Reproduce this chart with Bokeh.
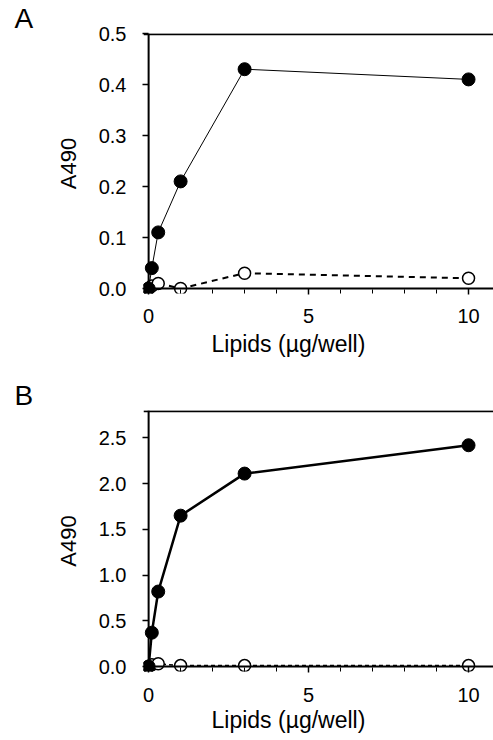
from bokeh.plotting import figure
from bokeh.layouts import column
from bokeh.models import (Range1d, SingleIntervalTicker, FixedTicker, PrintfTickFormatter,
                          Title, Span)
from bokeh.embed import file_html
from bokeh.resources import INLINE

# ---- data ----
lipids = [0, 0.1, 0.3, 1, 3, 10]
a_filled = [0.0, 0.04, 0.11, 0.21, 0.43, 0.41]
a_open = [0.0, 0.005, 0.01, 0.0, 0.03, 0.02]
b_filled = [0.0, 0.37, 0.82, 1.65, 2.11, 2.42]
b_open = [0.0, 0.02, 0.03, 0.01, 0.01, 0.01]
a_yticks = [0.0, 0.1, 0.2, 0.3, 0.4, 0.5]
b_yticks = [0.0, 0.5, 1.0, 1.5, 2.0, 2.5]
x_label = "Lipids (µg/well)"
y_label = "A490"

FONT = "Liberation Sans"


def make_panel(height, top, bottom, yr, yticks, filled, opened, letter,
               filled_w, open_w, open_dash, x_standoff, xlab_standoff):
    p = figure(width=493, height=height, x_range=Range1d(-0.16, 10.78), y_range=Range1d(*yr),
               output_backend="svg", toolbar_location=None,
               min_border_left=143, min_border_right=0, min_border_top=top,
               min_border_bottom=bottom)
    p.outline_line_color = None
    p.grid.visible = False
    p.background_fill_color = "white"

    # x axis
    xa = p.xaxis[0]
    xa.ticker = SingleIntervalTicker(interval=5, num_minor_ticks=5)
    xa.axis_line_color = None
    xa.major_tick_in = 5
    xa.major_tick_out = 1
    xa.minor_tick_in = 4
    xa.minor_tick_out = 0
    xa.major_tick_line_width = 1.5
    xa.minor_tick_line_width = 1
    xa.major_label_standoff = x_standoff
    xa.major_label_text_font = FONT
    xa.major_label_text_font_size = "20px"
    xa.major_label_text_color = "black"

    # y axis
    ya = p.yaxis[0]
    ya.ticker = FixedTicker(ticks=yticks)
    ya.formatter = PrintfTickFormatter(format="%.1f")
    ya.axis_line_color = None
    ya.major_tick_in = 5
    ya.major_tick_out = 1
    ya.minor_tick_out = 0
    ya.minor_tick_in = 0
    ya.major_tick_line_width = 1.5
    ya.major_label_standoff = 16
    ya.major_label_text_font = FONT
    ya.major_label_text_font_size = "20px"
    ya.major_label_text_color = "black"
    ya.axis_label = y_label
    ya.axis_label_text_font = FONT
    ya.axis_label_text_font_size = "22px"
    ya.axis_label_text_font_style = "normal"
    ya.axis_label_text_color = "black"
    ya.axis_label_standoff = 15

    # axis lines through the origin and top border
    p.add_layout(Span(location=0, dimension="width", line_color="black", line_width=2))
    p.add_layout(Span(location=0, dimension="height", line_color="black", line_width=2))
    p.add_layout(Span(location=yr[1] - (yr[1] - yr[0]) * 0.003, dimension="width",
                      line_color="black", line_width=2))

    # series
    p.line(lipids, opened, line_color="black", line_width=open_w, line_dash=open_dash)
    p.scatter(lipids, opened, size=12, fill_color="white", line_color="black", line_width=1.5)
    p.line(lipids, filled, line_color="black", line_width=filled_w)
    p.scatter(lipids, filled, size=13, fill_color="black", line_color="black")

    # x-axis title and panel letter
    p.add_layout(Title(text=x_label, align="left", offset=68, standoff=xlab_standoff,
                       text_font=FONT, text_font_size="23px", text_font_style="normal",
                       text_color="black"),
                 "below")
    p.add_layout(Title(text=letter, align="left", offset=-129, standoff=0,
                       text_font=FONT, text_font_size="28px", text_font_style="normal",
                       text_color="black"),
                 "above")
    return p


pa = make_panel(374, 32, 81, (-0.0098, 0.5), a_yticks, a_filled, a_open, "A",
                1, 2, "6 5", 14, 6)
pb = make_panel(366, 36, 69, (-0.0546, 2.8), b_yticks, b_filled, b_open, "B",
                2.5, 1.5, "4 3", 15, 1)

layout = column(pa, pb, spacing=0)
open("out.html", "w").write(file_html(layout, INLINE))
